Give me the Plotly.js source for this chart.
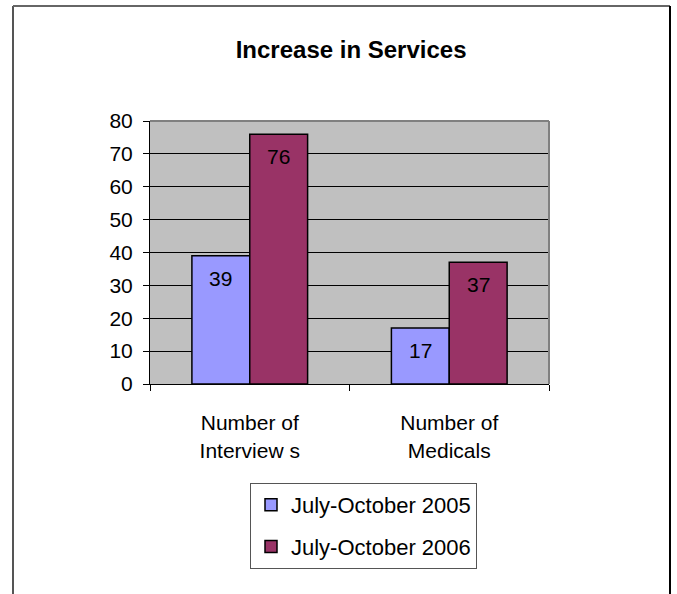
<!DOCTYPE html>
<html>
<head>
<meta charset="utf-8">
<script src="https://cdn.plot.ly/plotly-3.0.1.min.js"></script>
<style>
html, body { margin: 0; padding: 0; background: #fff; }
#chart { width: 677px; height: 594px; }
</style>
</head>
<body>
<div id="chart"></div>
<script>
var categories = ['Number of<br>Interview s', 'Number of<br>Medicals'];
var series2005 = [39, 17];
var series2006 = [76, 37];
var seriesNames = ['July-October 2005', 'July-October 2006'];
var yTickValues = [0, 10, 20, 30, 40, 50, 60, 70, 80];
var chartTitle = 'Increase in Services';

var FONT = "'Liberation Sans', Arial, sans-serif";
var BARGAP = 0.42;
var HALF = (1 - BARGAP) / 4; // half of one bar's width in category units

var traces = [
  {
    type: 'bar', x: categories, y: series2005, name: seriesNames[0],
    legendgroup: 'a',
    marker: { color: '#9999FF', line: { color: '#000000', width: 1.5 } },
    hoverinfo: 'none'
  },
  {
    type: 'bar', x: categories, y: series2006, name: seriesNames[1],
    legendgroup: 'b',
    marker: { color: '#993366', line: { color: '#000000', width: 1.5 } },
    hoverinfo: 'none'
  }
];

// value labels inside the bars, placed through the axes
var annotations = [];
[series2005, series2006].forEach(function (vals, s) {
  vals.forEach(function (v, i) {
    annotations.push({
      xref: 'x', yref: 'y',
      x: i + (s === 0 ? -HALF : HALF), y: v,
      text: String(v), showarrow: false,
      xanchor: 'center', yanchor: 'top', yshift: -9,
      font: { family: FONT, size: 21, color: '#000000' }
    });
  });
});

// plot area: x 150..549, y 121..384
var L = 150, R = 549, T = 121, B = 384;
var W = R - L, H = B - T;
function px(x) { return (x - L) / W; }
function py(y) { return (B - y) / H; }

var layout = {
  width: 677, height: 594,
  margin: { l: L, r: 677 - R, t: T, b: 594 - B, pad: 0 },
  paper_bgcolor: '#ffffff',
  plot_bgcolor: '#C0C0C0',
  font: { family: FONT, size: 21, color: '#000000' },
  title: {
    text: '<b>' + chartTitle + '</b>',
    font: { family: FONT, size: 24, color: '#000000' },
    x: 0.504, xref: 'paper', xanchor: 'center',
    y: 1 - 50 / 594, yref: 'container', yanchor: 'middle'
  },
  barmode: 'group',
  bargap: BARGAP,
  bargroupgap: 0,
  showlegend: true,
  legend: {
    x: px(250), xanchor: 'left',
    y: py(483), yanchor: 'top',
    orientation: 'v',
    traceorder: 'grouped',
    tracegroupgap: 10,
    bgcolor: '#ffffff',
    bordercolor: '#555555', borderwidth: 1,
    font: { family: FONT, size: 22, color: '#000000' }
  },
  annotations: annotations,
  xaxis: {
    type: 'category',
    range: [-0.5, 1.5],
    showline: true, linecolor: '#000000', linewidth: 1,
    ticks: 'outside', tickson: 'boundaries', ticklen: 6, tickcolor: '#000000', tickwidth: 1,
    showgrid: false, zeroline: false,
    tickfont: { family: FONT, size: 21, color: '#000000' },
    ticklabelstandoff: 20,
    fixedrange: true
  },
  yaxis: {
    range: [0, 80],
    tickmode: 'array', tickvals: yTickValues, ticktext: yTickValues.map(String),
    showline: true, linecolor: '#000000', linewidth: 1,
    ticks: 'outside', ticklen: 6, tickcolor: '#000000', tickwidth: 1,
    showgrid: true, gridcolor: '#000000', gridwidth: 1,
    zeroline: false,
    tickfont: { family: FONT, size: 21, color: '#000000' },
    ticklabelstandoff: 6,
    fixedrange: true
  },
  shapes: [
    { type: 'line', xref: 'paper', yref: 'paper', x0: 0, x1: 1, y0: 1, y1: 1,
      line: { color: '#808080', width: 2 }, layer: 'above' },
    { type: 'line', xref: 'paper', yref: 'paper', x0: 1, x1: 1, y0: 0, y1: 1,
      line: { color: '#808080', width: 2 }, layer: 'above' },
    { type: 'line', xref: 'paper', yref: 'paper', x0: px(13), x1: px(13), y0: py(6), y1: py(600),
      line: { color: '#555555', width: 2 }, layer: 'above' },
    { type: 'line', xref: 'paper', yref: 'paper', x0: px(13), x1: px(670), y0: py(6), y1: py(6),
      line: { color: '#666666', width: 2 }, layer: 'above' },
    { type: 'line', xref: 'paper', yref: 'paper', x0: px(670), x1: px(670), y0: py(6), y1: py(600),
      line: { color: '#000000', width: 2 }, layer: 'above' }
  ]
};

Plotly.newPlot('chart', traces, layout, { displayModeBar: false, staticPlot: true });
</script>
</body>
</html>
